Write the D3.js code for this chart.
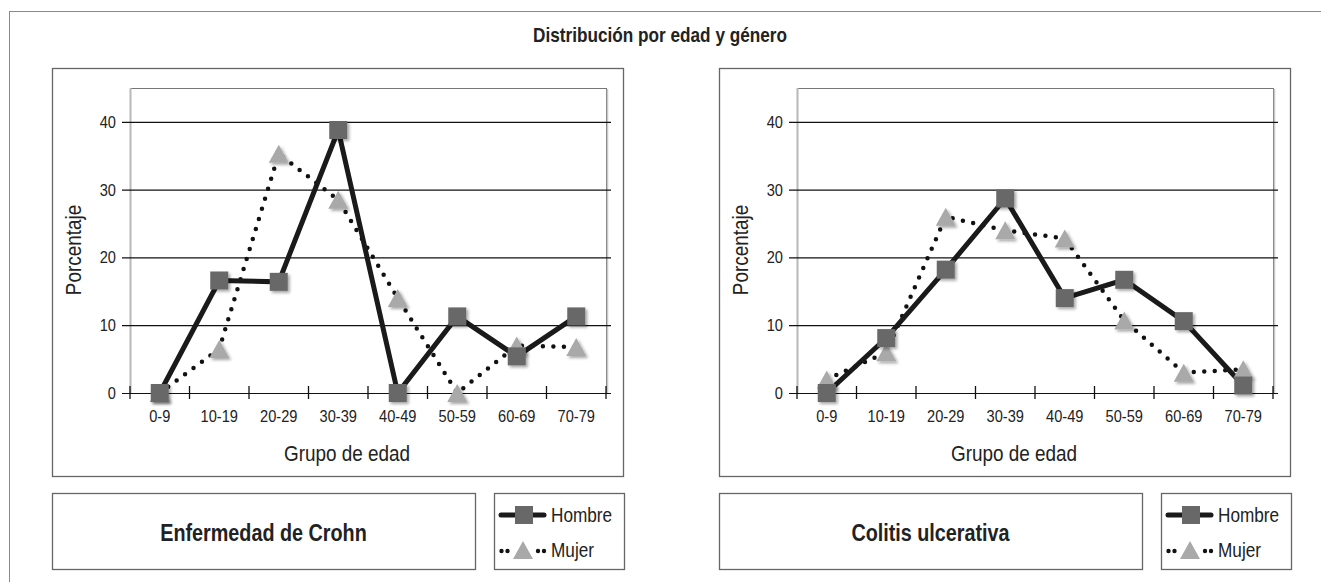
<!DOCTYPE html>
<html>
<head>
<meta charset="utf-8">
<script src="https://cdn.jsdelivr.net/npm/d3@7"></script>
<style>
  body { margin: 0; background: #fff; }
  svg text { font-family: "Liberation Sans", Arial, sans-serif; fill: #222; }
</style>
</head>
<body>
<div id="chart"></div>
<script>
// data
const ageGroups = ['0-9', '10-19', '20-29', '30-39', '40-49', '50-59', '60-69', '70-79'];
const yTicks = [0, 10, 20, 30, 40];
const crohnHombre = [0, 16.6, 16.4, 38.8, 0, 11.3, 5.4, 11.3];
const crohnMujer = [0, 6.5, 35.3, 28.5, 14, 0, 7, 6.8];
const colitisHombre = [0, 8.1, 18.2, 28.7, 14, 16.7, 10.6, 1.1];
const colitisMujer = [2, 6, 26, 24, 22.8, 10.7, 3, 3.5];
const panelTitles = ['Enfermedad de Crohn', 'Colitis ulcerativa'];
const seriesNames = ['Hombre', 'Mujer'];

const W = 1321, H = 582;
const NARROW = 0.86; // the original uses a condensed face

const svg = d3.select('#chart').append('svg')
    .attr('width', W)
    .attr('height', H);

// soft shadow for the markers
const defs = svg.append('defs');
const shadow = defs.append('filter').attr('id', 'shadow')
    .attr('x', '-30%').attr('y', '-30%').attr('width', '170%').attr('height', '170%');
shadow.append('feDropShadow')
    .attr('dx', 2).attr('dy', 2)
    .attr('stdDeviation', 1.4)
    .attr('flood-color', '#000')
    .attr('flood-opacity', 0.35);

// condensed text helper
function label(parent, x, y, txt, size, anchor, bold, rotate) {
    return parent.append('text')
        .attr('transform', `translate(${x},${y})` + (rotate ? ` rotate(${rotate})` : '') + ` scale(${NARROW},1)`)
        .attr('text-anchor', anchor || 'start')
        .attr('font-size', size + 'px')
        .attr('font-weight', bold ? 'bold' : null)
        .text(txt);
}

// outer frame (only top and left visible)
svg.append('rect')
    .attr('x', 9.5).attr('y', 11.5)
    .attr('width', W).attr('height', H)
    .attr('fill', 'none').attr('stroke', '#8a8a8a').attr('stroke-width', 1);

label(svg, 660, 42, 'Distribución por edad y género', 20, 'middle', true);

const squarePath = 'M-9,-9H9V9H-9Z';
const trianglePath = 'M0,-9L10,9H-10Z';

function drawPanel(fx, hombre, mujer, title) {
    const g = svg.append('g');
    const plotLeft = fx + 78, plotRight = fx + 554;
    const plotTop = 88, plotBottom = 393;

    // chart frame
    g.append('rect')
        .attr('x', fx + 0.5).attr('y', 68.5)
        .attr('width', 571).attr('height', 408)
        .attr('fill', 'none').attr('stroke', '#666').attr('stroke-width', 1.3);

    const x = d3.scaleBand().domain(ageGroups).range([plotLeft, plotRight]).padding(0);
    const xEdge = d3.scaleLinear().domain([0, ageGroups.length]).range([plotLeft, plotRight]);
    const y = d3.scaleLinear().domain([0, 45]).range([plotBottom, plotTop]);

    // plot area box
    g.append('rect')
        .attr('x', plotLeft + 0.5).attr('y', plotTop + 0.5)
        .attr('width', plotRight - plotLeft).attr('height', plotBottom - plotTop)
        .attr('fill', 'none').attr('stroke', '#777').attr('stroke-width', 1);
    g.append('line')
        .attr('x1', plotLeft + 0.5).attr('x2', plotLeft + 0.5)
        .attr('y1', plotTop).attr('y2', plotBottom)
        .attr('stroke', '#b8b8b8').attr('stroke-width', 2);
    g.append('line')
        .attr('x1', plotRight + 1.5).attr('x2', plotRight + 1.5)
        .attr('y1', plotTop + 1).attr('y2', plotBottom)
        .attr('stroke', '#c8c8c8').attr('stroke-width', 1.5);

    // gridlines + y labels
    const gridLeft = plotLeft - 8, gridRight = plotRight + 5;
    const yAxis = g.append('g')
        .attr('transform', `translate(${gridLeft},0)`)
        .call(d3.axisLeft(y).tickValues(yTicks)
            .tickSize(-(gridRight - gridLeft))
            .tickPadding(7)
            .tickFormat(d3.format('d')));
    yAxis.select('.domain').remove();
    yAxis.selectAll('.tick line').attr('stroke', '#111').attr('stroke-width', 1.2);
    yAxis.selectAll('.tick text')
        .attr('font-size', '17px')
        .attr('font-family', null)
        .attr('fill', '#222')
        .attr('transform', `scale(${NARROW},1)`);

    // x ticks at category edges
    g.selectAll('.xedge')
        .data(d3.range(ageGroups.length + 1))
        .enter().append('line')
        .attr('x1', d => xEdge(d)).attr('x2', d => xEdge(d))
        .attr('y1', y(0) - 7).attr('y2', y(0) + 6)
        .attr('stroke', '#111').attr('stroke-width', 1.3);

    // x labels
    const xAxis = g.append('g')
        .attr('transform', `translate(0,${plotBottom})`)
        .call(d3.axisBottom(x).tickSize(0).tickPadding(17));
    xAxis.select('.domain').remove();
    xAxis.selectAll('.tick text')
        .attr('font-size', '17px')
        .attr('font-family', null)
        .attr('fill', '#222')
        .attr('transform', `scale(${NARROW},1)`);

    // axis titles
    label(g, fx + 295, 461, 'Grupo de edad', 22, 'middle');
    label(g, fx + 29, 250, 'Porcentaje', 22, 'middle', false, -90);

    // lines
    const line = d3.line()
        .x((d, i) => x(ageGroups[i]) + x.bandwidth() / 2)
        .y(d => y(d));

    g.append('path')
        .datum(mujer)
        .attr('d', line)
        .attr('fill', 'none')
        .attr('stroke', '#111')
        .attr('stroke-width', 4.5)
        .attr('stroke-linecap', 'round')
        .attr('stroke-dasharray', '0 10.5');

    g.append('path')
        .datum(hombre)
        .attr('d', line)
        .attr('fill', 'none')
        .attr('stroke', '#1a1a1a')
        .attr('stroke-width', 5)
        .attr('stroke-linejoin', 'miter');

    // markers
    g.selectAll('.tri')
        .data(mujer)
        .enter().append('path')
        .attr('d', trianglePath)
        .attr('transform', (d, i) => `translate(${x(ageGroups[i]) + x.bandwidth() / 2},${y(d)})`)
        .attr('fill', '#a9a9a9')
        .attr('filter', 'url(#shadow)');

    g.selectAll('.sq')
        .data(hombre)
        .enter().append('path')
        .attr('d', squarePath)
        .attr('transform', (d, i) => `translate(${x(ageGroups[i]) + x.bandwidth() / 2},${y(d)})`)
        .attr('fill', '#686868')
        .attr('filter', 'url(#shadow)');

    // title box
    g.append('rect')
        .attr('x', fx + 0.5).attr('y', 493.5)
        .attr('width', 423).attr('height', 76)
        .attr('fill', 'none').attr('stroke', '#666').attr('stroke-width', 1.3);
    label(g, fx + 211.5, 541, title, 23, 'middle', true);

    // legend box
    const lx = fx + 442;
    g.append('rect')
        .attr('x', lx + 0.5).attr('y', 493.5)
        .attr('width', 130).attr('height', 76)
        .attr('fill', 'none').attr('stroke', '#666').attr('stroke-width', 1.3);

    g.append('line')
        .attr('x1', lx + 7).attr('x2', lx + 50)
        .attr('y1', 515).attr('y2', 515)
        .attr('stroke', '#1a1a1a').attr('stroke-width', 5)
        .attr('stroke-linecap', 'round');
    g.append('path')
        .attr('d', squarePath)
        .attr('transform', `translate(${lx + 30},515)`)
        .attr('fill', '#686868');
    label(g, lx + 57, 522, seriesNames[0], 20);

    g.selectAll('.ldot')
        .data([7.5, 13.5, 44, 50])
        .enter().append('circle')
        .attr('cx', d => lx + d).attr('cy', 551)
        .attr('r', 2.2).attr('fill', '#111');
    g.append('path')
        .attr('d', trianglePath)
        .attr('transform', `translate(${lx + 29},550)`)
        .attr('fill', '#a9a9a9');
    label(g, lx + 57, 557, seriesNames[1], 20);
}

drawPanel(52, crohnHombre, crohnMujer, panelTitles[0]);
drawPanel(719, colitisHombre, colitisMujer, panelTitles[1]);
</script>
</body>
</html>
